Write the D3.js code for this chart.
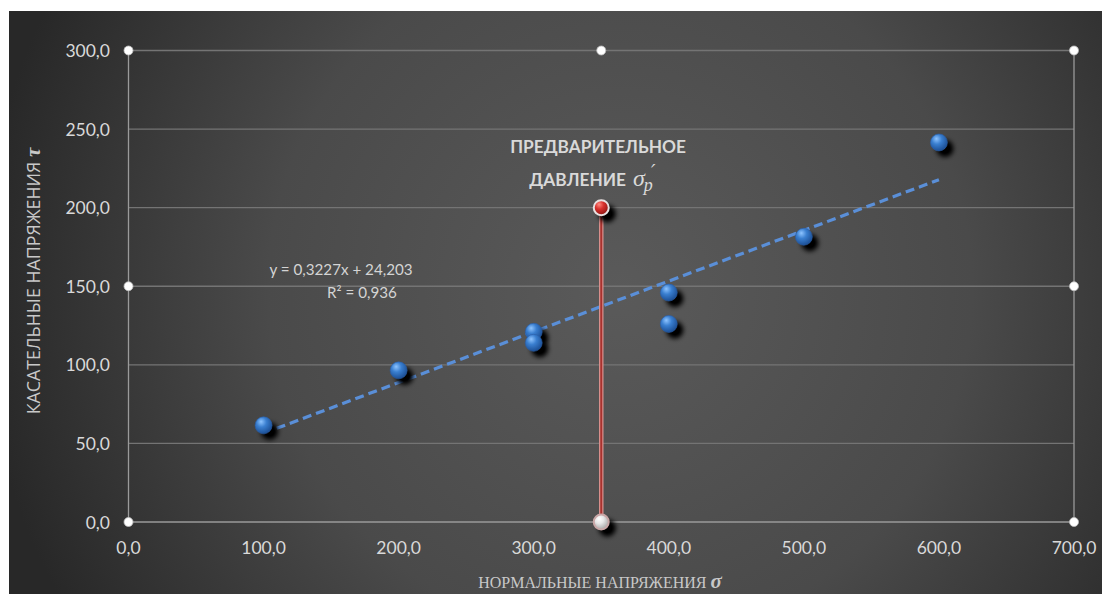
<!DOCTYPE html>
<html>
<head>
<meta charset="utf-8">
<script src="https://cdn.jsdelivr.net/npm/d3@7"></script>
<style>
  body { margin: 0; background: #fff; }
  svg { display: block; }
</style>
</head>
<body>
<svg id="canvas"></svg>
<script>
var w = 1102;
var h = 594;

// data
var xVals = [100, 200, 300, 300, 400, 400, 500, 600]
var yVals = [61.5, 96.5, 121, 114, 146, 126, 181.5, 241.5]
var xTicks = [0, 100, 200, 300, 400, 500, 600, 700]
var yTicks = [0, 50, 100, 150, 200, 250, 300]
var preX = 350
var preY = [0, 200]
var slope = 0.3227
var intercept = 24.203
var trendRange = [100, 600]
var eqLines = ['y = 0,3227x + 24,203', 'R² = 0,936']

var fmt = function(v){ return d3.format('.1f')(v).replace('.', ',') }
var sans = 'Lato, "Open Sans", sans-serif'

var x = d3.scaleLinear().domain([0, 700]).range([128.5, 1074])
var y = d3.scaleLinear().domain([0, 300]).range([522, 50.5])

var svg = d3.select('#canvas')
  .attr('width', w)
  .attr('height', h)
  .attr('viewBox', [0, 0, w, h])

var defs = svg.append('defs')

var bg = defs.append('radialGradient').attr('id', 'bg')
  .attr('gradientUnits', 'userSpaceOnUse')
  .attr('cx', 620).attr('cy', 290).attr('r', 640)
bg.append('stop').attr('offset', '0%').attr('stop-color', '#5a5a5a')
bg.append('stop').attr('offset', '55%').attr('stop-color', '#4a4a4a')
bg.append('stop').attr('offset', '100%').attr('stop-color', '#282828')

function ballGradient(id, light, mid, dark){
  var g = defs.append('radialGradient').attr('id', id)
    .attr('cx', '40%').attr('cy', '35%').attr('r', '65%')
    .attr('fx', '35%').attr('fy', '28%')
  g.append('stop').attr('offset', '0%').attr('stop-color', light)
  g.append('stop').attr('offset', '45%').attr('stop-color', mid)
  g.append('stop').attr('offset', '100%').attr('stop-color', dark)
}
ballGradient('blueBall', '#8ec4ff', '#3a7fd0', '#1c4f95')
ballGradient('redBall', '#ff8a80', '#d8302c', '#8e1512')
ballGradient('whiteBall', '#ffffff', '#e6e6e6', '#a8a8a8')

var sh = defs.append('filter').attr('id', 'shadow')
  .attr('x', '-100%').attr('y', '-100%').attr('width', '300%').attr('height', '300%')
sh.append('feGaussianBlur').attr('in', 'SourceAlpha').attr('stdDeviation', 2.6)
sh.append('feOffset').attr('dx', 6).attr('dy', 6).attr('result', 'off')
sh.append('feComponentTransfer').append('feFuncA').attr('type', 'linear').attr('slope', 1.1)

// background
svg.append('rect').attr('x', 9).attr('y', 11).attr('width', w - 9).attr('height', h - 11)
  .attr('fill', 'url(#bg)')

// gridlines
svg.append('g').selectAll('line')
  .data(yTicks)
  .enter().append('line')
  .attr('x1', x(0)).attr('x2', x(700))
  .attr('y1', d => y(d)).attr('y2', d => y(d))
  .style('stroke', d => d == 0 ? '#9a9a9a' : '#747474')
  .style('stroke-width', 1.3)

// plot area border (left / right)
svg.append('line').attr('x1', x(0)).attr('x2', x(0)).attr('y1', y(300)).attr('y2', y(0))
  .style('stroke', '#9a9a9a').style('stroke-width', 1.3)
svg.append('line').attr('x1', x(700)).attr('x2', x(700)).attr('y1', y(300)).attr('y2', y(0))
  .style('stroke', '#9a9a9a').style('stroke-width', 1.3)

// tick labels
svg.append('g').selectAll('text')
  .data(yTicks)
  .enter().append('text')
  .attr('x', 110).attr('y', d => y(d) + 6.5)
  .attr('text-anchor', 'end')
  .style('font-family', sans).style('font-size', '17.5px')
  .style('fill', '#d9d9d9')
  .text(fmt)

svg.append('g').selectAll('text')
  .data(xTicks)
  .enter().append('text')
  .attr('x', d => x(d)).attr('y', 554)
  .attr('text-anchor', 'middle')
  .style('font-family', sans).style('font-size', '17.5px')
  .style('fill', '#d9d9d9')
  .text(fmt)

// trend line
svg.append('line')
  .attr('x1', x(trendRange[0])).attr('y1', y(slope * trendRange[0] + intercept))
  .attr('x2', x(trendRange[1])).attr('y2', y(slope * trendRange[1] + intercept))
  .style('stroke', '#5a8fd8').style('stroke-width', 3.2)
  .style('stroke-dasharray', '9,5')

// preconsolidation line
svg.append('line').attr('x1', x(preX)).attr('x2', x(preX))
  .attr('y1', y(preY[0])).attr('y2', y(preY[1]))
  .style('stroke', '#d88f8c').style('stroke-width', 4.5)
svg.append('line').attr('x1', x(preX)).attr('x2', x(preX))
  .attr('y1', y(preY[0])).attr('y2', y(preY[1]))
  .style('stroke', '#a8322e').style('stroke-width', 2)

// shadows then balls
var pts = xVals.map((d, i) => ({x: d, y: yVals[i]}))
svg.append('g').selectAll('circle')
  .data(pts).enter().append('circle')
  .attr('cx', d => x(d.x)).attr('cy', d => y(d.y)).attr('r', 8.5)
  .attr('filter', 'url(#shadow)')
svg.append('g').selectAll('circle')
  .data(pts).enter().append('circle')
  .attr('cx', d => x(d.x)).attr('cy', d => y(d.y)).attr('r', 8.5)
  .style('fill', 'url(#blueBall)')
  .style('stroke', '#2a5ea8').style('stroke-width', 0.6)

var prePts = preY.map(d => ({x: preX, y: d}))
svg.append('g').selectAll('circle')
  .data(prePts).enter().append('circle')
  .attr('cx', d => x(d.x)).attr('cy', d => y(d.y)).attr('r', 8.5)
  .attr('filter', 'url(#shadow)')
svg.append('g').selectAll('circle')
  .data(prePts).enter().append('circle')
  .attr('cx', d => x(d.x)).attr('cy', d => y(d.y)).attr('r', 7.5)
  .style('fill', d => d.y == 0 ? 'url(#whiteBall)' : 'url(#redBall)')
  .style('stroke', d => d.y == 0 ? '#c9a7a7' : '#e8e0e0').style('stroke-width', 2)

// selection handles
var hx = [0, 350, 700]
var hy = [0, 150, 300]
var handles = []
hx.forEach(a => hy.forEach(b => { if (!(a == 350 && b == 150)) handles.push([a, b]) }))
svg.append('g').selectAll('circle')
  .data(handles.filter(d => !(d[0] == preX && d[1] == 0)))
  .enter().append('circle')
  .attr('cx', d => x(d[0])).attr('cy', d => y(d[1])).attr('r', 4.5)
  .style('fill', '#ffffff').style('stroke', '#bdbdbd').style('stroke-width', 0.8)

// regression label
svg.append('g').selectAll('text')
  .data(eqLines).enter().append('text')
  .attr('x', (d, i) => i == 0 ? 341 : 362).attr('y', (d, i) => 275 + i * 23)
  .attr('text-anchor', 'middle')
  .style('font-family', sans).style('font-size', '15.2px')
  .style('fill', '#d4d4d4')
  .text(d => d)

// annotation
svg.append('text').attr('x', 598).attr('y', 153)
  .attr('text-anchor', 'middle')
  .style('font-family', sans).style('font-size', '17.3px')
  .style('font-weight', 'bold').style('fill', '#d9d9d9')
  .text('ПРЕДВАРИТЕЛЬНОЕ')
svg.append('text').attr('x', 626).attr('y', 186)
  .attr('text-anchor', 'end')
  .style('font-family', sans).style('font-size', '17.3px')
  .style('font-weight', 'bold').style('fill', '#d9d9d9')
  .text('ДАВЛЕНИЕ')
var sig = svg.append('text').attr('x', 633).attr('y', 186)
  .style('font-family', '"Liberation Serif", serif').style('font-style', 'italic')
  .style('font-size', '24px').style('fill', '#d9d9d9')
sig.append('tspan').text('σ')
sig.append('tspan').attr('dy', 5).attr('dx', -1).style('font-size', '18px').text('p')
svg.append('text').attr('x', 651).attr('y', 178)
  .style('font-family', '"DejaVu Sans", sans-serif').style('font-style', 'italic')
  .style('font-size', '20px').style('fill', '#d9d9d9')
  .text('′')

// axis titles
var yt = svg.append('text')
  .attr('transform', 'translate(40,281) rotate(-90)')
  .attr('text-anchor', 'middle')
  .style('font-family', '"Open Sans", sans-serif').style('font-size', '17.8px')
  .style('fill', '#c8c8c8')
yt.append('tspan').text('КАСАТЕЛЬНЫЕ НАПРЯЖЕНИЯ ')
yt.append('tspan').style('font-family', '"Liberation Serif", serif')
  .style('font-style', 'italic').style('font-weight', 'bold').style('font-size', '21px').text('τ')

var xt = svg.append('text')
  .attr('x', 600).attr('y', 588)
  .attr('text-anchor', 'middle')
  .style('font-family', '"Liberation Serif", serif').style('font-size', '16px')
  .style('fill', '#c8c8c8')
xt.append('tspan').text('НОРМАЛЬНЫЕ НАПРЯЖЕНИЯ ')
xt.append('tspan').style('font-style', 'italic').style('font-weight', 'bold')
  .style('font-size', '21px').text('σ')
</script>
</body>
</html>
